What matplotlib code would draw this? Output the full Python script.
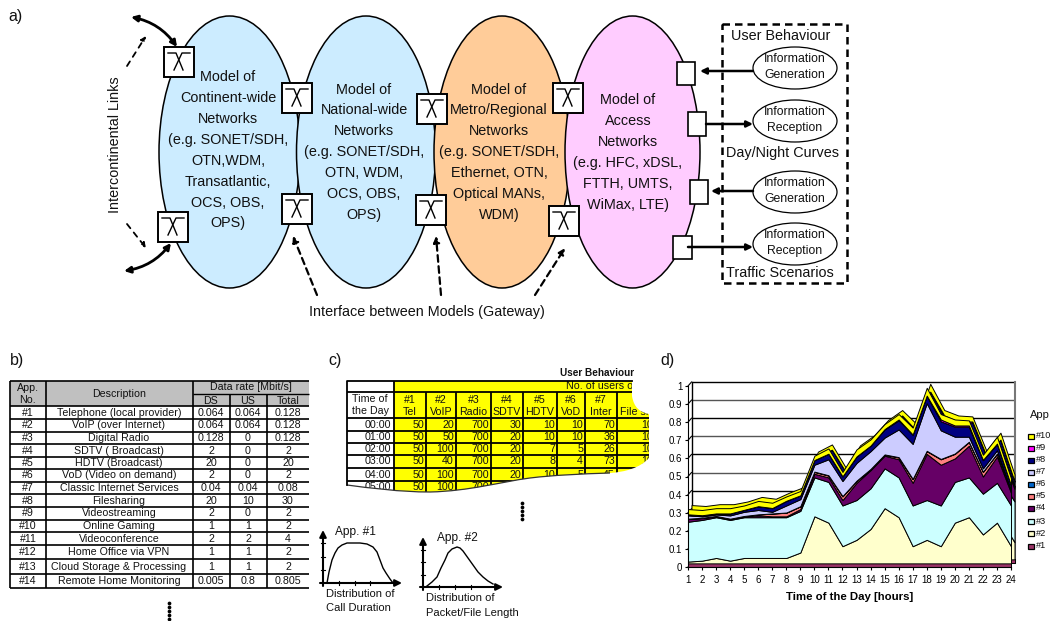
import numpy as np
import matplotlib
matplotlib.use('Agg')
import matplotlib.pyplot as plt
import matplotlib.transforms as mtransforms
from matplotlib.patches import Ellipse, Rectangle, FancyArrowPatch, PathPatch
from matplotlib.path import Path

plt.rcParams['font.family'] = ['Liberation Sans', 'DejaVu Sans']

# panel b table
app_no = ['#1','#2','#3','#4','#5','#6','#7','#8','#9','#10','#11','#12','#13','#14']
app_desc = ['Telephone (local provider)','VoIP (over Internet)','Digital Radio','SDTV ( Broadcast)',
            'HDTV (Broadcast)','VoD (Video on demand)','Classic Internet Services','Filesharing',
            'Videostreaming','Online Gaming','Videoconference','Home Office via VPN',
            'Cloud Storage & Processing','Remote Home Monitoring']
rate_ds = ['0.064','0.064','0.128','2','20','2','0.04','20','2','1','2','1','1','0.005']
rate_us = ['0.064','0.064','0','0','0','0','0.04','10','0','1','2','1','1','0.8']
rate_total = ['0.128','0.128','0.128','2','20','2','0.08','30','2','2','4','2','2','0.805']

# panel c table
times = ['00:00','01:00','02:00','03:00','04:00','05:00']
c_heads = ['#1','#2','#3','#4','#5','#6','#7','']
c_names = ['Tel','VoIP','Radio','SDTV','HDTV','VoD','Inter','File sh']
users = [['50','20','700','30','10','10','70','10'],
         ['50','50','700','20','10','10','36','10'],
         ['50','100','700','20','7','5','26','10'],
         ['50','40','700','20','8','4','73','10'],
         ['50','100','700','20','10','5','45','10'],
         ['50','100','700','20','10','5','75','10']]

# panel d, top edge of every layer of the stack
hours = np.arange(1,25)
top1 = [0.02]*24
top2 = [0.03,0.035,0.05,0.035,0.05,0.05,0.05,0.05,0.08,0.28,0.245,0.115,0.15,0.21,0.325,0.275,0.115,0.15,0.115,0.245,0.275,0.18,0.245,0.115]
top3 = [0.25,0.26,0.275,0.26,0.275,0.275,0.275,0.275,0.31,0.495,0.47,0.34,0.37,0.435,0.545,0.495,0.34,0.37,0.34,0.47,0.495,0.405,0.465,0.34]
top4 = [0.265,0.27,0.28,0.265,0.28,0.285,0.28,0.28,0.32,0.515,0.495,0.37,0.465,0.535,0.615,0.595,0.465,0.625,0.565,0.6,0.67,0.5,0.61,0.41]
top5 = [0.266,0.271,0.281,0.266,0.281,0.29,0.295,0.30,0.335,0.525,0.505,0.39,0.475,0.54,0.62,0.605,0.485,0.64,0.595,0.625,0.69,0.525,0.625,0.42]
top6 = [0.267,0.272,0.282,0.267,0.282,0.291,0.296,0.301,0.336,0.527,0.507,0.392,0.477,0.542,0.622,0.607,0.487,0.642,0.597,0.627,0.692,0.527,0.627,0.421]
top7 = [0.285,0.28,0.29,0.285,0.305,0.315,0.305,0.34,0.375,0.565,0.595,0.475,0.575,0.64,0.715,0.76,0.68,0.905,0.755,0.72,0.72,0.545,0.645,0.425]
top8 = [0.29,0.285,0.295,0.295,0.315,0.335,0.325,0.365,0.395,0.59,0.625,0.50,0.61,0.67,0.76,0.81,0.73,0.945,0.805,0.775,0.775,0.59,0.68,0.45]
top9 = [0.291,0.286,0.296,0.296,0.316,0.336,0.326,0.366,0.396,0.591,0.626,0.501,0.611,0.671,0.762,0.815,0.732,0.947,0.815,0.782,0.782,0.592,0.682,0.451]
top10 = [0.32,0.315,0.325,0.325,0.34,0.365,0.355,0.39,0.42,0.615,0.655,0.525,0.65,0.705,0.79,0.845,0.77,0.99,0.845,0.815,0.81,0.62,0.72,0.49]
series_names = ['#1','#2','#3','#4','#5','#6','#7','#8','#9','#10']
series_colors = ['#993366','#FFFFCC','#CCFFFF','#660066','#FF8080','#0066CC','#CCCCFF','#000080','#FF00FF','#FFFF00']

# schematic distribution curves, in page pixels
dist1_x = [327,329,332,335,338,342,347,353,360,367,373,377,380,383,386,390,393]
dist1_y = [583,572,560,553,548,545,543,543,543,544,547,552,560,568,573,579,583]
dist2_x = [427,432,437,441,445,448,452,457,460,463,468,473,478,483,488,493]
dist2_y = [586,582,577,568,560,553,549,547,548,551,558,565,572,577,581,584]

fig = plt.figure(figsize=(10.5,6.21),dpi=100)
ax = fig.add_axes([0,0,1,1])
ax.set_xlim(0,1050)
ax.set_ylim(621,0)
ax.axis('off')

def txt(x,y,s,size=10.4,ha='center',**kw):
    return ax.text(x,y,s,fontsize=size,ha=ha,va='center',color='#111111',**kw)

def arrow(p0,p1,style='-|>',rad=0,lw=1.8,ls='-',ms=9):
    ax.add_patch(FancyArrowPatch(p0,p1,arrowstyle=style,mutation_scale=ms,lw=lw,ls=ls,color='black',
                                 connectionstyle='arc3,rad=%g'%rad,shrinkA=0,shrinkB=0,zorder=4))

#panel labels
for x,y,s in [(8,16,'a)'),(10,361,'b)'),(328,361,'c)'),(660,361,'d)')]:
    txt(x,y,s,size=11.5,ha='left')

#panel a, the four big ellipses
for cx,w,col in [(229.5,141,'#CCECFF'),(366,139,'#CCECFF'),(502,136,'#FFCC99'),(632.5,135,'#FFCCFF')]:
    ax.add_patch(Ellipse((cx,152),w,272,fc=col,ec='black',lw=1.1))

lines1 = ['Model of','Continent-wide','Networks','(e.g. SONET/SDH,','OTN,WDM,','Transatlantic,','OCS, OBS,','OPS)']
for y,s in zip([77,98,119,140,161,182,203,223],lines1):
    txt(228,y,s)
lines2 = ['Model of','National-wide','Networks','(e.g. SONET/SDH,','OTN, WDM,','OCS, OBS,','OPS)']
for y,s in zip([90,110,131,152,173,194,215],lines2):
    txt(364,y,s)
lines3 = ['Model of','Metro/Regional','Networks','(e.g. SONET/SDH,','Ethernet, OTN,','Optical MANs,','WDM)']
for y,s in zip([90,110,131,152,173,194,215],lines3):
    txt(499,y,s)
lines4 = ['Model of','Access','Networks','(e.g. HFC, xDSL,','FTTH, UMTS,','WiMax, LTE)']
for y,s in zip([100,121,142,163,184,205],lines4):
    txt(628,y,s)

#gateways
for x0,y0 in [(164,47),(158,212),(282,83),(282,194),(417,94),(416,195),(553,83),(549,206)]:
    ax.add_patch(Rectangle((x0,y0),30,30,fc='white',ec='black',lw=1.4,zorder=3))
    ax.plot([x0+4,x0+12,x0+19],[y0+6,y0+6,y0+23],color='black',lw=1,zorder=3)
    ax.plot([x0+26,x0+18,x0+10],[y0+6,y0+6,y0+23],color='black',lw=1,zorder=3)

#small ports on the access ellipse
for x0,y0,w,h in [(677,62,18,23),(688,112,18,24),(690,180,18,24),(673,236,19,23)]:
    ax.add_patch(Rectangle((x0,y0),w,h,fc='white',ec='black',lw=1.2,zorder=3))

#user behaviour box
ax.add_patch(Rectangle((722,24),125,259,fc='none',ec='black',lw=1.8,ls=(0,(3,2))))
for y,s1,s2 in [(68,'Information','Generation'),(121,'Information','Reception'),
                (192,'Information','Generation'),(244,'Information','Reception')]:
    ax.add_patch(Ellipse((795,y),84,42,fc='white',ec='black',lw=0.9,zorder=3))
    txt(795,y-9,s1,size=8.8,zorder=5)
    txt(795,y+7,s2,size=8.8,zorder=5)
txt(781,36,'User Behaviour')
txt(782,153,'Day/Night Curves')
txt(780,273,'Traffic Scenarios')

arrow((753,71),(700,71))
arrow((706,124),(753,124))
arrow((753,191),(711,191))
arrow((688,247),(753,247))

#intercontinental links and gateway pointers
txt(115,145,'Intercontinental Links',rotation=90)
arrow((131,17),(177,47),style='<|-|>',rad=-0.2,lw=2)
arrow((124,271),(171,243),style='<|-|>',rad=0.2,lw=2)
arrow((127,66),(146,36),lw=1.3,ls=(0,(3,3)),ms=7)
arrow((127,224),(146,248),lw=1.3,ls=(0,(3,3)),ms=7)
arrow((317,295),(293,236),lw=1.6,ls=(0,(3,2)))
arrow((441,295),(436,236),lw=1.6,ls=(0,(3,2)))
arrow((535,295),(565,248),lw=1.6,ls=(0,(3,2)))
txt(427,312,'Interface between Models (Gateway)')

#panel b table
col_x = [10,46,193,230,267,309]
row_y = [406,419,432,444,457,469,482,494,507,520,532,545,559,574,588]
ax.add_patch(Rectangle((10,381),299,25,fc='#C0C0C0',ec='none'))
tsize = 7.7
txt(28,388,'App.',size=tsize)
txt(28,400,'No.',size=tsize)
txt(119,394,'Description',size=tsize)
txt(251,387.5,'Data rate [Mbit/s]',size=tsize)
txt(211,401,'DS',size=tsize)
txt(248,401,'US',size=tsize)
txt(288,401,'Total',size=tsize)
for i in range(14):
    y = (row_y[i]+row_y[i+1])/2
    txt(28,y,app_no[i],size=tsize)
    txt(119,y,app_desc[i],size=tsize)
    txt(211,y,rate_ds[i],size=tsize)
    txt(248,y,rate_us[i],size=tsize)
    txt(288,y,rate_total[i],size=tsize)
ax.hlines([381]+row_y,10,309,color='black',lw=1.2)
ax.hlines(394,193,309,color='black',lw=1)
ax.vlines(col_x[:3],381,588,color='black',lw=1.2)
ax.vlines(col_x[3:5],394,588,color='black',lw=1.2)
ax.plot([169]*5,[603,607,611,615,619],'o',color='black',ms=2.7,mew=0)

#panel c table, a white mask with a wavy hole cuts it off
verts = [(347,381),(632,381),(632,396),
         (634,408),(640,412),(649,414),
         (649,458),
         (640,468),(625,472),(610,473),
         (580,474),(555,475),(530,478),
         (500,482),(470,491),(430,492),
         (400,492),(370,488),(347,485),
         (347,381)]
codes = [Path.MOVETO,Path.LINETO,Path.LINETO,
         Path.CURVE4,Path.CURVE4,Path.CURVE4,
         Path.LINETO,
         Path.CURVE4,Path.CURVE4,Path.CURVE4,
         Path.CURVE4,Path.CURVE4,Path.CURVE4,
         Path.CURVE4,Path.CURVE4,Path.CURVE4,
         Path.CURVE4,Path.CURVE4,Path.CURVE4,
         Path.CLOSEPOLY]
c_col = [347,394,426,456,491,523,557,585,617,655]
c_row = [418,431,443,455,468,481,494]
ax.add_patch(Rectangle((394,381),266,119,fc='#FFFF00',ec='none'))
ax.hlines([392,418]+c_row[1:],347,660,color='black',lw=1.3)
ax.vlines(c_col[1:],392,500,color='black',lw=1.3)
ax.vlines(394,381,392,color='black',lw=1.3)
txt(566,386,'No. of users of',size=tsize,ha='left')
txt(370,398.5,'Time of',size=tsize)
txt(370,411.5,'the Day',size=tsize)
for j in range(8):
    xm = (c_col[j+1]+c_col[j+2])/2
    txt(xm,400,c_heads[j],size=tsize)
    txt(xm,412,c_names[j],size=tsize)
for i in range(6):
    y = (c_row[i]+c_row[i+1])/2
    txt(391,y,times[i],size=tsize,ha='right')
    for j in range(8):
        txt(c_col[j+2]-2,y,users[i][j],size=tsize,ha='right')
mask_verts = [(345,379.5),(345,502),(662,502),(662,379.5),(345,379.5)]+verts
mask_codes = [Path.MOVETO,Path.LINETO,Path.LINETO,Path.LINETO,Path.CLOSEPOLY]+codes
ax.add_patch(PathPatch(Path(mask_verts,mask_codes),fc='white',ec='none',zorder=6))
ax.add_patch(PathPatch(Path(verts[9:19],[Path.MOVETO]+[Path.CURVE4]*9),fc='none',ec='#333333',lw=0.9,zorder=7))
ax.plot([632,347,347],[381,381,485],color='black',lw=1.3,zorder=7)
txt(597,373,'User Behaviour',size=7.2,weight='bold')
ax.plot([522]*5,[503,507,511,515,519],'o',color='black',ms=2.7,mew=0,zorder=8)

#distribution sketches
for x0,y0,x1,y1,cx,cy,title,tx,ty in [(323,530,402,583,dist1_x,dist1_y,'App. #1',355,532),
                                      (423,537,503,587,dist2_x,dist2_y,'App. #2',457,538)]:
    arrow((x0,y1+3),(x0,y0),lw=1.5,ms=10)
    arrow((x0-3,y1),(x1,y1),lw=1.5,ms=10)
    ax.plot(cx,cy,color='black',lw=1)
    for k in range(1,4):
        ax.plot([x0-2,x0+2],[y1-k*(y1-y0)/4]*2,color='black',lw=0.8)
        ax.plot([x0+k*(x1-x0)/5]*2,[y1-2,y1+2],color='black',lw=0.8)
    txt(tx,ty,title,size=8.6)
txt(360,594,'Distribution of',size=8)
txt(358,608,'Call Duration',size=8)
txt(460,598,'Distribution of',size=8)
txt(472,613,'Packet/File Length',size=8)

#panel d legend
txt(1030,415,'App',size=8,ha='left')
for i,yl in enumerate([546,533,521,508,496,484,472,460,448,436]):
    ax.add_patch(Rectangle((1028,yl-2.5),5.5,5,fc=series_colors[i],ec='black',lw=0.9))
    txt(1036,yl,series_names[i],size=6.6,ha='left')

#panel d, stacked area chart
ax2 = fig.add_axes([688/1050,1-567/621,323/1050,181/621])
ax2.patch.set_visible(False)
ax2.set_xlim(1,24)
ax2.set_ylim(0,1)
tops = np.array([top1,top2,top3,top4,top5,top6,top7,top8,top9,top10])
layers = np.diff(np.vstack([np.zeros(24),tops]),axis=0)
back = mtransforms.offset_copy(ax2.transData,fig=fig,x=3.5,y=4,units='dots')

#back wall grid
yt = np.arange(0,1.01,0.1)
ax2.hlines(yt[1:],1,24,color=['#555555','black']*5,lw=1,transform=back,clip_on=False,zorder=0.5)
ax2.plot([1,1],[0,1],color='black',lw=1,transform=back,clip_on=False,zorder=0.5)
ax2.plot([24,24],[0,1],color='#777777',lw=1.5,transform=back,clip_on=False,zorder=0.5)
for v in yt:
    p = ax2.transData.transform((1,v))
    ax2.plot([p[0],p[0]+3.5],[p[1],p[1]+4],color='black',lw=0.8,
             transform=mtransforms.IdentityTransform(),clip_on=False,zorder=0.5)

ax2.stackplot(hours,layers,colors=series_colors,edgecolor='black',linewidth=0.7,transform=back,clip_on=False)
ax2.stackplot(hours,layers,colors=series_colors,edgecolor='black',linewidth=0.7,clip_on=False)

ax2.set_xlim(1,24)
ax2.set_ylim(0,1)
ax2.set_xticks(hours)
ax2.set_yticks(yt)
ax2.set_yticklabels(['0','0.1','0.2','0.3','0.4','0.5','0.6','0.7','0.8','0.9','1'])
ax2.tick_params(labelsize=7,length=2.5,width=0.8,pad=1.5)
ax2.tick_params(axis='x',pad=3)
ax2.spines['top'].set_visible(False)
ax2.spines['right'].set_visible(False)
ax2.set_xlabel('Time of the Day [hours]',fontsize=8.2,weight='bold',labelpad=5)

plt.savefig('out.png',dpi=100)
